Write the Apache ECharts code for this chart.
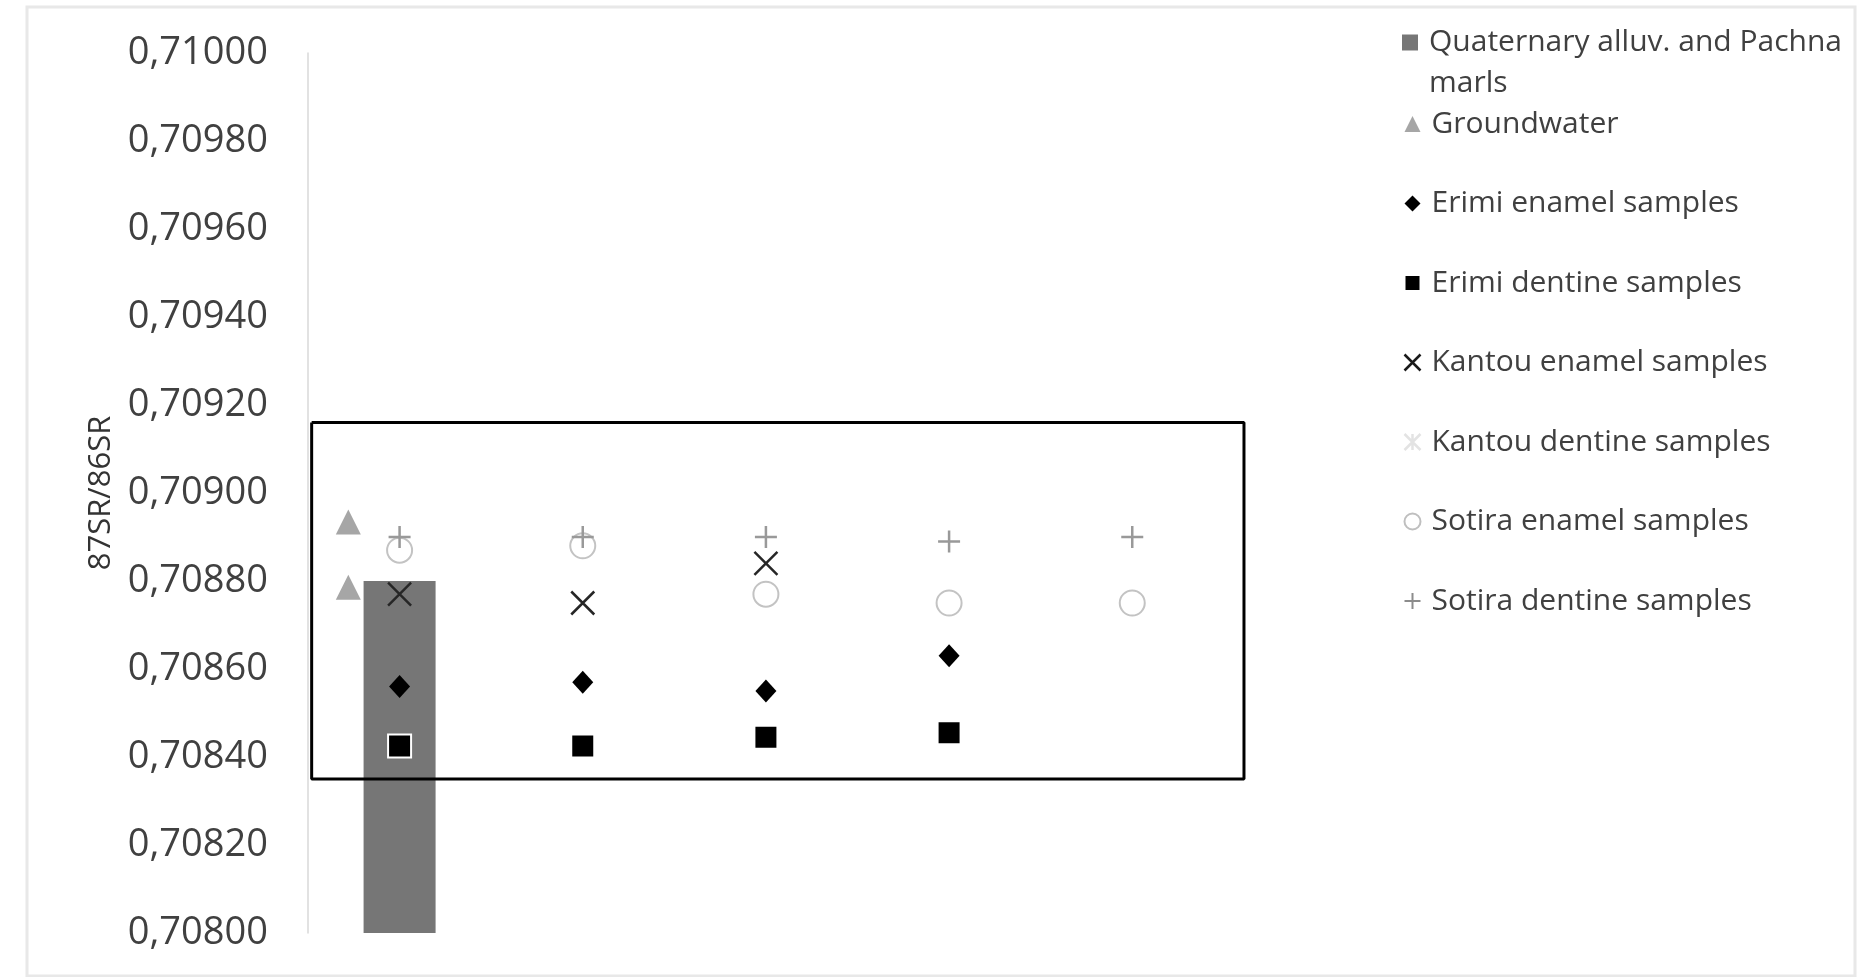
<!DOCTYPE html>
<html>
<head>
<meta charset="utf-8">
<script src="https://cdn.jsdelivr.net/npm/echarts@6/dist/echarts.min.js"></script>
<style>
  html, body { margin: 0; padding: 0; background: #fff; }
  #chart { width: 1862px; height: 977px; }
</style>
</head>
<body>
<div id="chart"></div>
<script>
// sample groups along the (unlabelled) x axis, at the middle of each slot
var groupX = [0.5, 1.5, 2.5, 3.5, 4.5];

// y axis
var yMin = 0.708, yMax = 0.710, yStep = 0.0002;

// 87Sr/86Sr values per group (null = no sample)
var quaternary    = [0.7088, null, null, null, null];
var erimiEnamel   = [0.70856, 0.70857, 0.70855, 0.70863, null];
var erimiDentine  = [0.708425, 0.708425, 0.708445, 0.708455, null];
var kantouEnamel  = [0.70877, 0.70875, 0.70884, null, null];
var kantouDentine = [null, null, null, null, null];
var sotiraEnamel  = [0.70887, 0.70888, 0.70877, 0.70875, 0.70875];
var sotiraDentine = [0.7089, 0.7089, 0.7089, 0.70889, 0.7089];

// groundwater, placed left of the first group
var groundwaterX = [0.22, 0.22];
var groundwaterY = [0.708934, 0.708786];

// local range box
var boxX = [0.02, 5.11];
var boxY = [0.70835, 0.70916];

var names = [
    'Quaternary alluv. and Pachna marls',
    'Groundwater',
    'Erimi enamel samples',
    'Erimi dentine samples',
    'Kantou enamel samples',
    'Kantou dentine samples',
    'Sotira enamel samples',
    'Sotira dentine samples'
];

var xPath = 'path://M0,0L10,10M10,0L0,10';
var plusPath = 'path://M5,0L5,10M0,5L10,5';
var starPath = 'path://M0,0L10,10M10,0L0,10M5,0L5,10';

var textColor = '#404040';

function pairs(values) {
    var out = [];
    values.forEach(function (v, i) {
        if (v !== null) out.push([groupX[i], v]);
    });
    return out;
}

var chart = echarts.init(document.getElementById('chart'));

var option = {
    backgroundColor: '#fff',
    animation: false,
    textStyle: { fontFamily: 'Open Sans', color: textColor },
    graphic: [{
        type: 'rect',
        shape: { x: 27, y: 7, width: 1828, height: 969 },
        style: { fill: 'none', stroke: '#e8e8e8', lineWidth: 3 },
        silent: true
    }],
    grid: { left: 308, top: 53, bottom: 44, right: 455 },
    legend: [
        {
            orient: 'vertical',
            left: 1402,
            top: -19,
            padding: 0,
            itemWidth: 16,
            itemHeight: 16,
            // empty first line keeps the icon level with the first text line
            formatter: function (name) { return ' \n' + name.replace(' marls', '\nmarls'); },
            textStyle: { fontSize: 30, color: textColor, lineHeight: 41, padding: [0, 0, 0, 6] },
            data: [
                { name: names[0], icon: 'rect', itemStyle: { color: '#767676' } }
            ],
            selectedMode: false
        },
        {
            orient: 'vertical',
            left: 1402,
            top: 106,
            padding: 0,
            itemWidth: 16,
            itemHeight: 16,
            itemGap: 43.5,
            textStyle: { fontSize: 30, color: textColor, lineHeight: 36, padding: [0, 0, 0, 6] },
            data: [
                { name: names[1], icon: 'triangle', itemStyle: { color: '#a6a6a6' } },
                { name: names[2], icon: 'diamond', itemStyle: { color: '#000' } },
                { name: names[3], icon: 'rect', itemStyle: { color: '#000' } },
                { name: names[4], icon: xPath, itemStyle: { color: 'none', borderColor: '#1a1a1a', borderWidth: 2.5 } },
                { name: names[5], icon: starPath, itemStyle: { color: 'none', borderColor: '#e3e3e3', borderWidth: 2.5 } },
                { name: names[6], icon: 'emptyCircle', itemStyle: { color: '#bfbfbf', borderColor: '#bfbfbf', borderWidth: 2 } },
                { name: names[7], icon: plusPath, itemStyle: { color: 'none', borderColor: '#8c8c8c', borderWidth: 2 } }
            ],
            selectedMode: false
        }
    ],
    xAxis: {
        type: 'value',
        min: 0,
        max: 6,
        show: false
    },
    yAxis: {
        type: 'value',
        min: yMin,
        max: yMax,
        interval: yStep,
        name: '87SR/86SR',
        nameLocation: 'middle',
        nameRotate: 90,
        nameGap: 190,
        nameTextStyle: { fontSize: 31, color: '#333' },
        axisLine: { show: true, lineStyle: { color: '#d9d9d9', width: 1.5 } },
        axisTick: { show: false },
        splitLine: { show: false },
        axisLabel: {
            fontSize: 38,
            color: textColor,
            margin: 40,
            padding: [10, 0, 0, 0],
            formatter: function (v) { return v.toFixed(5).replace('.', ','); }
        }
    },
    series: [
        {
            name: names[0],
            type: 'bar',
            barWidth: 72,
            data: pairs(quaternary),
            itemStyle: { color: '#767676' },
            z: 1
        },
        {
            name: 'box',
            type: 'line',
            showSymbol: false,
            silent: true,
            data: [
                [boxX[0], boxY[1]], [boxX[1], boxY[1]],
                [boxX[1], boxY[0]], [boxX[0], boxY[0]], [boxX[0], boxY[1]]
            ],
            lineStyle: { color: '#000', width: 3 },
            z: 2
        },
        {
            name: names[1],
            type: 'scatter',
            symbol: 'triangle',
            symbolSize: 25,
            data: groundwaterX.map(function (x, i) { return [x, groundwaterY[i]]; }),
            itemStyle: { color: '#a6a6a6', opacity: 1 },
            z: 3
        },
        {
            name: names[2],
            type: 'scatter',
            symbol: 'diamond',
            symbolSize: [21, 23],
            data: pairs(erimiEnamel),
            itemStyle: { color: '#000', opacity: 1 },
            z: 3
        },
        {
            name: names[3],
            type: 'scatter',
            symbol: 'rect',
            symbolSize: 23,
            data: pairs(erimiDentine),
            itemStyle: { color: '#000', borderColor: '#fff', borderWidth: 2, opacity: 1 },
            z: 3
        },
        {
            name: names[4],
            type: 'scatter',
            symbol: xPath,
            symbolSize: 23,
            data: pairs(kantouEnamel),
            itemStyle: { color: 'none', borderColor: '#262626', borderWidth: 2.5, opacity: 1 },
            z: 3
        },
        {
            name: names[5],
            type: 'scatter',
            symbol: starPath,
            symbolSize: 23,
            data: pairs(kantouDentine),
            itemStyle: { color: 'none', borderColor: '#e3e3e3', borderWidth: 2.5, opacity: 1 },
            z: 3
        },
        {
            name: names[6],
            type: 'scatter',
            symbol: 'emptyCircle',
            symbolSize: 25,
            data: pairs(sotiraEnamel),
            itemStyle: { color: '#c3c3c3', borderWidth: 2.5, opacity: 1 },
            z: 3
        },
        {
            name: names[7],
            type: 'scatter',
            symbol: plusPath,
            symbolSize: 22,
            data: pairs(sotiraDentine),
            itemStyle: { color: 'none', borderColor: '#999', borderWidth: 2.5, opacity: 1 },
            z: 3
        }
    ]
};

chart.setOption(option);
</script>
</body>
</html>
